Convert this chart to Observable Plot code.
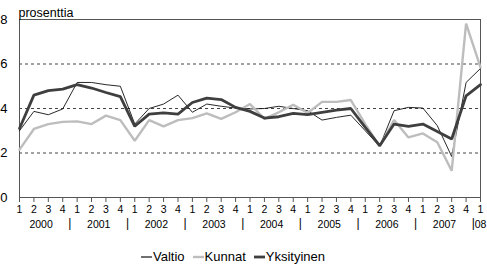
<!DOCTYPE html>
<html>
<head>
<meta charset="utf-8">
<script src="https://cdn.jsdelivr.net/npm/d3@7"></script>
<script src="https://cdn.jsdelivr.net/npm/@observablehq/plot@0.6"></script>
<style>
  html, body { margin: 0; padding: 0; background: #fff; }
  body { width: 487px; height: 265px; position: relative; overflow: hidden; font-family: Arial, "Liberation Sans", sans-serif; }
  #legend { position: absolute; left: 140px; top: 249px; font-size: 13px; line-height: 15px; color: #000; display: flex; align-items: center; white-space: nowrap; }
  #legend .item { display: flex; align-items: center; margin-right: 7px; }
  #legend svg { margin-right: 1px; }
</style>
</head>
<body>
<div id="chart"></div>
<div id="legend"></div>
<script>
const years = ["2000", "2001", "2002", "2003", "2004", "2005", "2006", "2007", "08"];
const quarterNames = ["1", "2", "3", "4"];
const yTicks = [0, 2, 4, 6, 8];
const gridValues = [2, 4, 6];
const seriesNames = ["Valtio", "Kunnat", "Yksityinen"];

const valtio = [3.0, 3.87, 3.72, 3.98, 5.17, 5.17, 5.07, 5.0, 3.3, 4.0, 4.2, 4.6, 3.83, 4.2, 4.1, 4.02, 3.98, 4.0, 4.1, 4.0, 3.9, 3.48, 3.6, 3.7, 3.0, 2.3, 3.9, 4.05, 4.02, 3.23, 1.84, 5.17, 5.8];
const kunnat = [2.15, 3.08, 3.3, 3.4, 3.42, 3.3, 3.68, 3.48, 2.55, 3.48, 3.2, 3.48, 3.57, 3.78, 3.53, 3.83, 4.2, 3.53, 3.83, 4.17, 3.8, 4.3, 4.3, 4.38, 3.3, 2.3, 3.48, 2.7, 2.88, 2.48, 1.2, 7.82, 5.85];
const yksityinen = [3.1, 4.6, 4.8, 4.87, 5.07, 4.92, 4.72, 4.53, 3.2, 3.75, 3.8, 3.75, 4.27, 4.47, 4.4, 4.05, 3.87, 3.57, 3.63, 3.78, 3.72, 3.83, 3.93, 4.0, 3.15, 2.33, 3.3, 3.2, 3.3, 2.97, 2.63, 4.57, 5.07];

const styles = {
  Valtio: {stroke: "#111", strokeWidth: 0.9},
  Kunnat: {stroke: "#bdbdbd", strokeWidth: 2.4},
  Yksityinen: {stroke: "#3f3f3f", strokeWidth: 2.8}
};

// quarter index labels: 4 per year, last year has only Q1
const quarterLabels = [];
years.forEach((y, yi) => {
  const n = yi === years.length - 1 ? 1 : 4;
  for (let q = 0; q < n; q++) quarterLabels.push(quarterNames[q]);
});
const idx = quarterLabels.map((_, i) => i);
const yearCenters = years.map((y, yi) => yi === years.length - 1 ? yi * 4 : yi * 4 + 1.5);
const separators = years.slice(1).map((y, yi) => (yi + 1) * 4 - 0.5);

const seriesData = {Valtio: valtio, Kunnat: kunnat, Yksityinen: yksityinen};
const table = seriesNames.flatMap(name => seriesData[name].map((v, i) => ({name, i, v})));

const chart = Plot.plot({
  width: 487,
  height: 240,
  marginLeft: 19,
  marginRight: 7,
  marginTop: 19,
  marginBottom: 43,
  style: {fontFamily: "Arial, 'Liberation Sans', sans-serif", color: "#000", background: "#fff"},
  x: {domain: [0, idx.length - 1]},
  y: {domain: [0, 8]},
  marks: [
    Plot.ruleY(gridValues, {stroke: "#444", strokeDasharray: "3,3", strokeWidth: 1}),
    Plot.frame({stroke: "#555", strokeWidth: 1}),
    Plot.axisY(yTicks, {tickSize: 0, tickPadding: 12, fontSize: 13, label: null}),
    Plot.axisX(idx, {tickSize: 5, tickPadding: 3.5, fontSize: 10.5, stroke: "#555", tickFormat: i => quarterLabels[i], label: null}),
    Plot.axisX(yearCenters, {tickSize: 0, tickPadding: 23, fontSize: 10.5, tickFormat: (d, k) => years[k], label: null}),
    Plot.axisX(separators, {tickSize: 0, tickPadding: 21, fontSize: 12, fill: "#000", tickFormat: () => "|", label: null}),
    Plot.text(["prosenttia"], {frameAnchor: "top-left", dy: -11, dx: -1, textAnchor: "start", fontSize: 12.5}),
    ...seriesNames.map(name => Plot.line(table.filter(d => d.name === name), {
      x: "i", y: "v", ...styles[name], strokeLinejoin: "miter", curve: "linear"
    }))
  ]
});
document.getElementById("chart").appendChild(chart);

const legend = document.getElementById("legend");
seriesNames.forEach(name => {
  const item = document.createElement("div");
  item.className = "item";
  const s = styles[name];
  item.innerHTML = `<svg width="12" height="10"><line x1="1" x2="12" y1="5" y2="5" stroke="${s.stroke}" stroke-width="${Math.max(1.2, s.strokeWidth)}"/></svg><span>${name}</span>`;
  legend.appendChild(item);
});
</script>
</body>
</html>
